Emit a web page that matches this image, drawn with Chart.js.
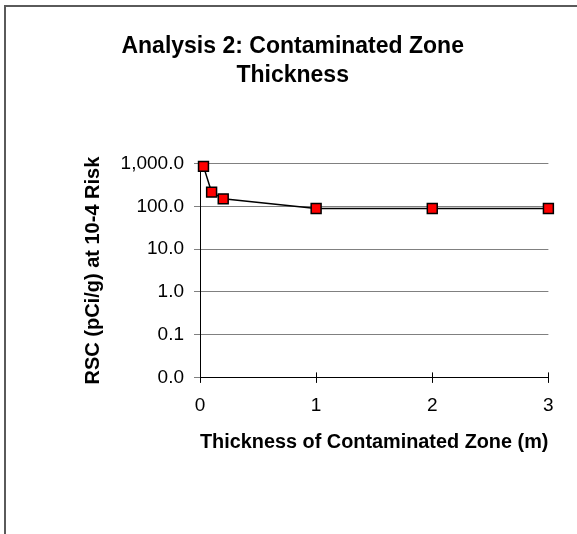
<!DOCTYPE html>
<html>
<head>
<meta charset="utf-8">
<title>Analysis 2: Contaminated Zone Thickness</title>
<script src="https://cdn.jsdelivr.net/npm/chart.js@4.4.0/dist/chart.umd.min.js"></script>
<style>
  html, body { margin: 0; padding: 0; background: #fff; }
  #wrap { width: 577px; height: 534px; }
</style>
</head>
<body>
<div id="wrap"><canvas id="rscChart" width="577" height="534"></canvas></div>
<script>
// Values
const thickness = [0.03, 0.1, 0.2, 1, 2, 3];
const rsc = [870, 217, 151, 90, 90, 90];
const yTicks = [0.01, 0.1, 1, 10, 100, 1000];
const xTicks = [0, 1, 2, 3];

const family = "'Liberation Sans', Arial, sans-serif";

// grey frame round the chart (runs off the right and bottom edge)
const framePlugin = {
  id: "frame",
  beforeDraw(chart) {
    const c = chart.ctx;
    c.save();
    c.fillStyle = "#fff";
    c.fillRect(0, 0, chart.width, chart.height);
    c.strokeStyle = "#5a5a5a";
    c.lineWidth = 2;
    c.strokeRect(5, 6, chart.width + 10, chart.height + 10);
    c.restore();
  }
};

// x tick marks cross the axis: draw the half above it
const crossTicks = {
  id: "crossTicks",
  afterDraw(chart) {
    const xs = chart.scales.x;
    const base = chart.scales.y.getPixelForValue(yTicks[0]);
    const c = chart.ctx;
    c.save();
    c.strokeStyle = "#000";
    c.lineWidth = 1;
    xTicks.forEach((v) => {
      const px = Math.round(xs.getPixelForValue(v)) + 0.5;
      c.beginPath();
      c.moveTo(px, base - 5);
      c.lineTo(px, base);
      c.stroke();
    });
    c.restore();
  }
};

const ctx = document.getElementById("rscChart").getContext("2d");
const rscChart = new Chart(ctx, {
  type: "scatter",
  data: {
    datasets: [
      {
        data: thickness.map((t, i) => ({ x: t, y: rsc[i] })),
        showLine: true,
        clip: false,
        borderColor: "#000",
        borderWidth: 1.5,
        pointStyle: "rect",
        pointRadius: 7,
        pointHoverRadius: 7,
        pointBackgroundColor: "#ff0000",
        pointBorderColor: "#000",
        pointBorderWidth: 1.5,
      },
    ],
  },
  options: {
    responsive: false,
    animation: false,
    devicePixelRatio: 1,
    layout: { padding: { left: 37, right: 28.6, top: 0, bottom: 0 } },
    plugins: {
      legend: { display: false },
      tooltip: { enabled: false },
      title: {
        display: true,
        text: ["Analysis 2: Contaminated Zone", "Thickness"],
        color: "#000",
        font: { family, size: 23, weight: "bold", lineHeight: 1.243 },
        padding: { top: 32.4, bottom: 74.2 },
      },
    },
    scales: {
      x: {
        type: "linear",
        min: 0,
        max: 3,
        afterBuildTicks: (s) => { s.ticks = xTicks.map((v) => ({ value: v })); },
        afterFit: (s) => { s.height = 156.6; },
        grid: { drawOnChartArea: false, tickLength: 5.5, color: "#000" },
        border: { color: "#000", width: 1 },
        ticks: {
          padding: 11,
          color: "#000",
          font: { family, size: 19 },
          callback: (v) => String(v),
        },
        title: {
          display: true,
          text: "Thickness of Contaminated Zone (m)",
          color: "#000",
          font: { family, size: 20, weight: "bold" },
          padding: { top: 0, bottom: 79.2 },
        },
      },
      y: {
        type: "logarithmic",
        min: 0.01,
        max: 1000,
        afterBuildTicks: (s) => { s.ticks = yTicks.map((v) => ({ value: v })); },
        afterFit: (s) => { s.width = 163; },
        grid: {
          color: (c) => (c.tick && c.tick.value === 0.01 ? "#000" : "#808080"),
          tickColor: "#808080",
          tickLength: 6,
        },
        border: { color: "#000", width: 1 },
        ticks: {
          padding: 10,
          color: "#000",
          font: { family, size: 19 },
          callback: (v) => Number(v).toLocaleString("en-US", { minimumFractionDigits: 1, maximumFractionDigits: 1 }),
        },
        title: {
          display: true,
          text: "RSC (pCi/g) at 10-4 Risk",
          color: "#000",
          font: { family, size: 20, weight: "bold" },
          padding: { top: 44.9, bottom: 0 },
        },
      },
    },
  },
  plugins: [framePlugin, crossTicks],
});
</script>
</body>
</html>
